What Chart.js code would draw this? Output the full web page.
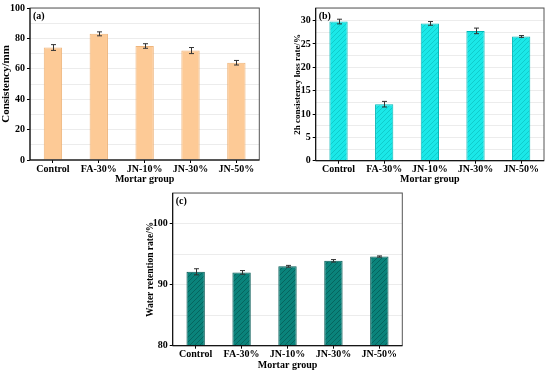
<!DOCTYPE html>
<html>
<head>
<meta charset="utf-8">
<script src="https://cdn.jsdelivr.net/npm/chart.js@4.4.1/dist/chart.umd.min.js"></script>
<style>
  body { margin: 0; background: #fff; }
  #wrap { position: relative; width: 550px; height: 371px; }
  .box { position: absolute; }
</style>
</head>
<body>
<div id="wrap">
  <div class="box" style="left:0;top:0;width:275px;height:185px"><canvas id="chartA"></canvas></div>
  <div class="box" style="left:275px;top:0;width:275px;height:185px"><canvas id="chartB"></canvas></div>
  <div class="box" style="left:130px;top:185px;width:290px;height:186px"><canvas id="chartC"></canvas></div>
</div>
<script>
var groups = ["Control", "FA-30%", "JN-10%", "JN-30%", "JN-50%"];

var consistency = [74, 83, 75, 72, 64];
var consistencyErr = [1.9, 1.3, 1.5, 2.0, 1.5];

var lossRate = [29.8, 12.1, 29.4, 27.8, 26.6];
var lossRateErr = [0.5, 0.6, 0.4, 0.6, 0.2];

var retention = [92.1, 92.0, 93.0, 93.9, 94.6];
var retentionErr = [0.5, 0.3, 0.15, 0.2, 0.1];

const FONT = "'Liberation Serif', 'Times New Roman', serif";

// diagonal hatch like Origin's pattern fill
function hatch(base, line) {
    var c = document.createElement("canvas");
    c.width = 5; c.height = 5;
    var g = c.getContext("2d");
    g.fillStyle = base;
    g.fillRect(0, 0, 5, 5);
    g.strokeStyle = line;
    g.lineWidth = 1;
    g.beginPath();
    g.moveTo(0, 5); g.lineTo(5, 0);
    g.moveTo(-1, 1); g.lineTo(1, -1);
    g.moveTo(4, 6); g.lineTo(6, 4);
    g.stroke();
    return g.createPattern(c, "repeat");
}

// error bars, frame and the (a)/(b)/(c) tag
const extras = {
    id: "extras",
    afterDatasetsDraw(chart, args, opts) {
        var ctx = chart.ctx;
        var y = chart.scales.y;
        var area = chart.chartArea;
        var vals = chart.data.datasets[0].data;
        var meta = chart.getDatasetMeta(0);
        ctx.save();
        ctx.strokeStyle = "#333";
        ctx.lineWidth = 1;
        meta.data.forEach(function (bar, i) {
            var x = Math.round(bar.x) + 0.5;
            var top = y.getPixelForValue(vals[i] + opts.err[i]);
            var bot = y.getPixelForValue(vals[i] - opts.err[i]);
            ctx.beginPath();
            ctx.moveTo(x, top); ctx.lineTo(x, bot);
            ctx.moveTo(x - 2.5, top); ctx.lineTo(x + 2.5, top);
            ctx.moveTo(x - 2.5, bot); ctx.lineTo(x + 2.5, bot);
            ctx.stroke();
        });
        ctx.strokeStyle = "#555";
        ctx.strokeRect(area.left, area.top, area.right - area.left, area.bottom - area.top);
        ctx.strokeStyle = "#000";
        ctx.beginPath();
        ctx.moveTo(area.left, area.top); ctx.lineTo(area.left, area.bottom); ctx.lineTo(area.right, area.bottom);
        ctx.stroke();
        ctx.fillStyle = "#000";
        ctx.font = "bold 10px " + FONT;
        ctx.textBaseline = "middle";
        ctx.fillText(opts.tag, area.left + 3, area.top + 8);
        ctx.restore();
    }
};

function makeChart(id, o) {
    return new Chart(document.getElementById(id), {
        type: "bar",
        data: {
            labels: groups,
            datasets: [{
                data: o.values,
                backgroundColor: o.fill,
                borderColor: o.border,
                borderWidth: 1,
                categoryPercentage: 1,
                barPercentage: 0.4
            }]
        },
        plugins: [extras],
        options: {
            responsive: true,
            maintainAspectRatio: false,
            animation: false,
            layout: { padding: { top: o.padTop, right: o.padRight, left: 0, bottom: 0 } },
            plugins: {
                legend: { display: false },
                tooltip: { enabled: false },
                extras: { err: o.err, tag: o.tag }
            },
            scales: {
                x: {
                    offset: true,
                    grid: { display: true, offset: false, drawOnChartArea: false, tickLength: 3, color: "#000" },
                    border: { display: false },
                    ticks: { color: "#000", font: { family: FONT, weight: "bold", size: 10 }, padding: 0, maxRotation: 0, autoSkip: false },
                    title: { display: true, text: "Mortar group", color: "#000", font: { family: FONT, weight: "bold", size: 10 }, padding: 0 },
                    afterFit: function (s) { s.height = o.xHeight; }
                },
                y: {
                    min: o.min,
                    max: o.max,
                    grid: {
                        color: function (c) { return c.tick && c.tick.value === o.min ? "rgba(0,0,0,0)" : "#ececec"; },
                        tickColor: function (c) { return c.tick && c.tick.value % o.major === 0 ? "#000" : "rgba(0,0,0,0)"; },
                        tickLength: 3
                    },
                    border: { display: false },
                    ticks: {
                        stepSize: o.minor,
                        includeBounds: false,
                        autoSkip: false,
                        color: "#000",
                        padding: 2,
                        font: { family: FONT, weight: "bold", size: 10 },
                        callback: function (v) { return v % o.major === 0 ? v : ""; }
                    },
                    title: { display: true, text: o.yTitle, color: "#000", font: { family: FONT, weight: "bold", size: o.yTitleSize }, padding: { top: o.yTitlePad, bottom: 0 } },
                    afterFit: function (s) { s.width = o.yWidth; }
                }
            }
        }
    });
}

var chartA = makeChart("chartA", {
    values: consistency, err: consistencyErr, tag: "(a)",
    fill: "#fdca96", border: "#eeb57c",
    min: 0, max: 100, major: 20, minor: 10,
    yTitle: "Consistency/mm", yTitleSize: 11, yTitlePad: 0,
    yWidth: 30, padTop: 6, padRight: 15.7, xHeight: 25
});

var chartB = makeChart("chartB", {
    values: lossRate, err: lossRateErr, tag: "(b)",
    fill: hatch("#1ae8e8", "#10cccc"), border: "#00b8b8",
    min: 0, max: 32.7, major: 5, minor: 2.5,
    yTitle: "2h consistency loss rate/%", yTitleSize: 9, yTitlePad: 17.5,
    yWidth: 40.7, padTop: 5.3, padRight: 6, xHeight: 24.3
});

var chartC = makeChart("chartC", {
    values: retention, err: retentionErr, tag: "(c)",
    fill: hatch("#0a837b", "#05655f"), border: "#045a55",
    min: 80, max: 105, major: 10, minor: 5,
    yTitle: "Water retention rate/%", yTitleSize: 9.5, yTitlePad: 15,
    yWidth: 42.7, padTop: 6.7, padRight: 17.7, xHeight: 25.3
});
</script>
</body>
</html>
